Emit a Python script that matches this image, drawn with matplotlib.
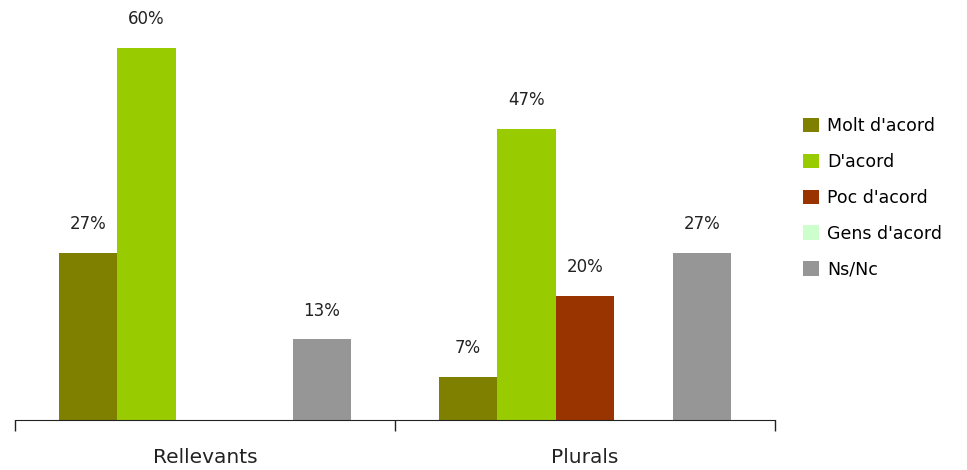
import matplotlib
matplotlib.use("Agg")
from matplotlib import pyplot as plt
import numpy as np

groups = ["Rellevants", "Plurals"]
series = ["Molt d'acord", "D'acord", "Poc d'acord", "Gens d'acord", "Ns/Nc"]
colors = ["#808000", "#99CC00", "#993300", "#CCFFCC", "#969696"]
values = {
    "Molt d'acord": [27, 7],
    "D'acord": [60, 47],
    "Poc d'acord": [0, 20],
    "Gens d'acord": [0, 0],
    "Ns/Nc": [13, 27],
}

plt.rcParams['font.family'] = ['DejaVu Sans']

fig = plt.figure(figsize=(9.67, 4.70), dpi=100)
ax = fig.add_axes([15 / 967, 50 / 470, 760 / 967, 420 / 470])

centers = np.arange(len(groups)) + 0.5
w = 58.5 / 380
for i, name in enumerate(series):
    xs = centers + (i - 2) * w
    bars = ax.bar(xs, values[name], width=w, color=colors[i], label=name)
    for b, v in zip(bars, values[name]):
        if v > 0:
            ax.text(b.get_x() + b.get_width() / 2, v + 4.6, "%d%%" % v,
                    ha="center", va="center", fontsize=12, color="#222222")

ax.set_xlim(0, 2)
ax.set_ylim(0, 60 * 420 / 372)
ax.set_yticks([])
for s in ["top", "right", "left"]:
    ax.spines[s].set_visible(False)
ax.spines["bottom"].set_color("#222222")
ax.set_xticks([0, 1, 2])
ax.set_xticklabels([])
ax.tick_params(axis="x", length=8, width=1, color="#222222")
ax.set_xticks(centers, minor=True)
ax.set_xticklabels(groups, minor=True, fontsize=14.5, color="#222222")
ax.tick_params(axis="x", which="minor", length=0, pad=20)

fig.legend(loc="upper left", bbox_to_anchor=(796 / 967, 1 - 110 / 470),
           frameon=False, fontsize=12.5, handlelength=0.9, handleheight=0.9,
           handletextpad=0.5, labelspacing=1.03, borderaxespad=0)

fig.savefig("out.png", dpi=100)
